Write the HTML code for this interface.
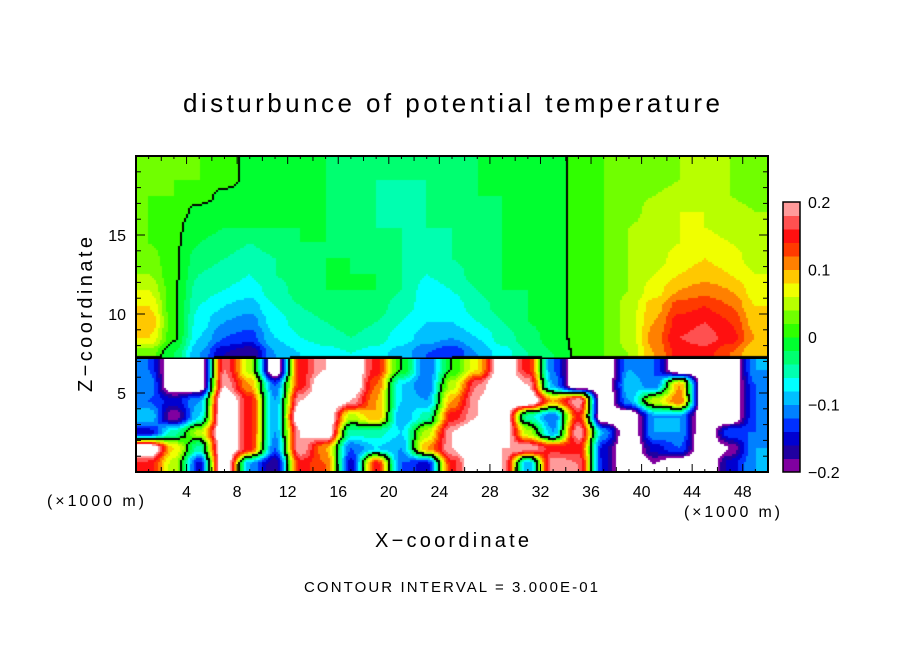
<!DOCTYPE html>
<html><head><meta charset="utf-8"><style>
body{margin:0;background:#fff;width:904px;height:654px;overflow:hidden;font-family:"Liberation Sans","DejaVu Sans",sans-serif;}
#wrap{position:relative;width:904px;height:654px;}
canvas{position:absolute;left:136px;top:156px;}
svg{position:absolute;left:0;top:0;}
</style></head><body>
<div id="wrap">
<canvas id="hm" width="632" height="316"></canvas>
<svg id="sv" width="904" height="654">
<text x="183" y="112" font-size="26" textLength="537" lengthAdjust="spacing">disturbunce of potential temperature</text>
<text transform="translate(92,392) rotate(-90)" font-size="20" textLength="155" lengthAdjust="spacing">Z−coordinate</text>
<text x="375" y="547" font-size="20" textLength="154" lengthAdjust="spacing">X−coordinate</text>
<text x="47" y="506" font-size="16" textLength="97" lengthAdjust="spacing">(×1000 m)</text>
<text x="684" y="517" font-size="16" textLength="96" lengthAdjust="spacing">(×1000 m)</text>
<text x="304" y="592" font-size="15" textLength="294" lengthAdjust="spacing">CONTOUR INTERVAL = 3.000E-01</text>
<g id="axes"></g>
<g id="cbar"></g>
</svg>
</div>
<script>
const xTicks=[4,8,12,16,20,24,28,32,36,40,44,48];
const yTicks=[5,10,15];
const cbarLabels=["0.2","0.1","0","−0.1","−0.2"];
const cbarValues=[0.2,0.1,0,-0.1,-0.2];
const levelColors=["#8000a0","#2000a0","#0000d0","#0030ff","#0080ff","#00c0ff","#00ffff","#00ffb0","#00ff70","#00ff30","#30ff00","#70ff00","#b8ff00","#f0ff00","#ffc800","#ff8000","#ff3a00","#ff1010","#ff5050","#ff9a9a"];
const zCenters=[19.5,18.5,17.5,16.5,15.5,14.5,13.5,12.5,11.5,10.5,9.5,8.5,7.5,6.5,5.5,4.5,3.5,2.5,1.5,0.5];
const xCenters=[1,3,5,7,9,11,13,15,17,19,21,23,25,27,29,31,33,35,37,39,41,43,45,47,49];
const r0=[.02,.02,.02,.01,-.005,-.01,-.02,-.02,-.03,-.03,-.04,-.04,-.03,-.02,-.02,-.01,-.01,.005,.02,.02,.03,.04,.04,.04,.03];
const r1=[.02,.02,.02,.01,-.005,-.01,-.02,-.02,-.03,-.04,-.04,-.04,-.03,-.02,-.02,-.01,-.01,.005,.02,.03,.03,.04,.05,.04,.03];
const r2=[.02,.02,.01,-.005,-.01,-.02,-.02,-.02,-.03,-.04,-.05,-.04,-.03,-.02,-.02,-.01,-.01,.005,.02,.03,.04,.05,.05,.04,.03];
const r3=[.02,.01,-.005,-.01,-.02,-.02,-.02,-.02,-.03,-.04,-.05,-.04,-.03,-.03,-.02,-.01,-.01,.005,.02,.03,.05,.06,.06,.05,.04];
const r4=[.02,.005,-.01,-.02,-.02,-.02,-.02,-.02,-.03,-.04,-.04,-.04,-.04,-.03,-.02,-.01,-.01,.005,.02,.04,.05,.06,.06,.05,.04];
const r5=[.02,.005,-.02,-.03,-.04,-.03,-.02,-.02,-.03,-.03,-.04,-.05,-.04,-.03,-.02,-.02,-.01,.005,.02,.04,.05,.06,.07,.06,.05];
const r6=[.03,.005,-.03,-.04,-.05,-.04,-.03,-.02,-.02,-.03,-.04,-.05,-.04,-.03,-.02,-.02,-.01,.005,.02,.04,.05,.07,.08,.07,.05];
const r7=[.04,.005,-.04,-.05,-.06,-.04,-.03,-.02,-.02,-.02,-.04,-.06,-.05,-.03,-.02,-.02,-.01,.005,.02,.04,.06,.08,.09,.08,.06];
const r8=[.06,.005,-.05,-.06,-.07,-.05,-.03,-.02,-.02,-.02,-.04,-.07,-.06,-.04,-.02,-.02,-.01,.005,.02,.04,.07,.10,.11,.10,.07];
const r9=[.08,.005,-.06,-.08,-.09,-.06,-.04,-.03,-.02,-.03,-.05,-.07,-.07,-.05,-.03,-.02,-.01,.005,.02,.05,.09,.13,.14,.12,.08];
const r10=[.10,.005,-.07,-.10,-.11,-.07,-.05,-.04,-.03,-.04,-.06,-.08,-.08,-.06,-.04,-.02,-.01,.005,.02,.05,.10,.15,.16,.14,.09];
const r11=[.08,.005,-.08,-.12,-.13,-.08,-.06,-.05,-.04,-.05,-.07,-.09,-.10,-.08,-.05,-.03,-.01,.005,.02,.05,.11,.16,.17,.15,.10];
const r12=[.03,-.02,-.10,-.16,-.18,-.10,-.08,-.07,-.06,-.07,-.09,-.12,-.14,-.10,-.07,-.04,-.02,.005,.02,.04,.10,.15,.15,.12,.08];
const r13=[-.12,-.25,-.25,.18,.05,-.25,.15,.2,.25,.15,0,-.12,0,.08,.25,.15,-.12,-.25,-.25,-.1,-.12,-.25,-.25,-.25,-.1];
const r14=[-.1,-.25,-.25,.2,.1,-.12,.15,.25,.25,.12,-.08,-.12,.05,.18,.25,.2,-.1,-.25,-.25,-.08,-.12,.1,-.25,-.25,-.12];
const r15=[-.12,-.15,-.1,.25,.15,-.1,.2,.25,.2,.1,-.08,-.1,.1,.2,.25,.25,.1,.2,-.25,-.1,.05,.12,-.25,-.25,-.12];
const r16=[-.08,-.2,-.08,.25,.15,-.1,.25,.25,.05,.1,-.1,-.05,.15,.2,.25,-.05,-.12,.15,-.25,-.25,-.1,-.1,-.25,-.25,-.12];
const r17=[-.15,-.05,.05,.25,.15,-.1,.2,.25,-.05,-.05,-.08,.05,.2,.25,.25,.05,-.1,.2,-.1,-.25,-.1,-.1,-.25,-.12,-.12];
const r18=[.25,.08,-.05,.25,.15,-.12,.2,.1,-.12,-.08,-.1,.1,.2,.25,.2,.2,.15,.15,-.15,-.25,-.15,-.12,-.25,-.2,-.1];
const r19=[.15,.05,-.15,.25,-.1,-.18,.15,.12,-.15,.15,-.12,-.15,.15,.25,.2,-.1,.2,.18,-.15,-.25,-.2,-.25,-.25,-.15,-.1];
const grid=[r0,r1,r2,r3,r4,r5,r6,r7,r8,r9,r10,r11,r12,r13,r14,r15,r16,r17,r18,r19];

const PL=136,PT=156,PW=632,PH=316,XMAX=50,ZMAX=20,ZI=7.2;
const xs=v=>PL+v/XMAX*PW, zs=v=>PT+PH-v/ZMAX*PH;
function colorOf(v){if(v>=0.2||v<-0.2)return "#ffffff";let i=Math.floor((v+0.2)/0.02);i=Math.max(0,Math.min(19,i));return levelColors[i];}
function sm(t){return t*t*(3-2*t);}
function sample(x,z){
  const upper=z>=ZI;
  let fx=(x-xCenters[0])/(xCenters[1]-xCenters[0]);fx=Math.max(0,Math.min(xCenters.length-1,fx));
  const c0=Math.floor(fx),c1=Math.min(xCenters.length-1,c0+1),tx=sm(fx-c0);
  let fr=(zCenters[0]-z)/(zCenters[0]-zCenters[1]);fr=Math.max(0,Math.min(zCenters.length-1,fr));
  let a=Math.floor(fr),b=Math.min(zCenters.length-1,a+1),t=sm(fr-a);
  const iface=12;
  if(upper&&b>iface){a=iface;b=iface;t=0;}
  if(!upper&&a<=iface){a=iface+1;b=iface+1;t=0;}
  const v=(r,c)=>grid[r][c];
  const top=v(a,c0)*(1-tx)+v(a,c1)*tx, bot=v(b,c0)*(1-tx)+v(b,c1)*tx;
  return top*(1-t)+bot*t;
}
const ctx=document.getElementById('hm').getContext('2d');
const S=2,NX=PW/S,NY=PH/S;
const vals=[];
for(let j=0;j<NY;j++){const row=[];for(let i=0;i<NX;i++){
  const x=(i*S+S/2)/PW*XMAX, z=(PH-j*S-S/2)/PH*ZMAX;
  const v=sample(x,z);row.push(v);
  ctx.fillStyle=colorOf(v);ctx.fillRect(i*S,j*S,S,S);
}vals.push(row);}
// zero contour (derived from data)
ctx.fillStyle="#000";
for(let j=0;j<NY;j++){for(let i=0;i<NX;i++){
  const v=vals[j][i];
  if(i+1<NX&&(v>=0)!==(vals[j][i+1]>=0))ctx.fillRect(i*S,j*S,S,S);
  else if(j+1<NY&&(v>=0)!==(vals[j+1][i]>=0))ctx.fillRect(i*S,j*S,S,S);
}}
const NS="http://www.w3.org/2000/svg";
const ax=document.getElementById('axes');
function mk(tag,attrs,parent){const e=document.createElementNS(NS,tag);for(const k in attrs)e.setAttribute(k,attrs[k]);parent.appendChild(e);return e;}
const il=mk('line',{x1:PL,x2:PL+PW,y1:zs(ZI),y2:zs(ZI),stroke:'#000','stroke-width':1.5},ax);


const fr=mk('rect',{x:PL,y:PT,width:PW,height:PH,fill:'none',stroke:'#000','stroke-width':2},ax);


for(let v=1;v<XMAX;v++){const L=v%4===0?8:(v%2===0?5:3);
  mk('line',{x1:xs(v),x2:xs(v),y1:PT+PH,y2:PT+PH-L,stroke:'#000'},ax);
  mk('line',{x1:xs(v),x2:xs(v),y1:PT,y2:PT+L,stroke:'#000'},ax);}
for(let v=1;v<ZMAX;v++){const L=v%5===0?9:5;
  mk('line',{x1:PL,x2:PL+L,y1:zs(v),y2:zs(v),stroke:'#000'},ax);
  mk('line',{x1:PL+PW,x2:PL+PW-L,y1:zs(v),y2:zs(v),stroke:'#000'},ax);}
xTicks.forEach(v=>{const t=mk('text',{x:xs(v),y:497,'text-anchor':'middle','font-size':16},ax);t.textContent=v;
  
  });
yTicks.forEach(v=>{const t=mk('text',{x:126,y:zs(v)+6,'text-anchor':'end','font-size':16},ax);t.textContent=v;
  
  });
const cb=document.getElementById('cbar');
const CX=783,CW=17,CT=202,CB=472,ch=(CB-CT)/levelColors.length;
levelColors.forEach((c,i)=>{const r=mk('rect',{x:CX,y:CB-(i+1)*ch,width:CW,height:ch+0.5,fill:c},cb);
  
  });
const cf=mk('rect',{x:CX,y:CT,width:CW,height:CB-CT,fill:'none',stroke:'#000','stroke-width':1.5},cb);


const cy=v=>CB-(v+0.2)/0.4*(CB-CT);
cbarValues.forEach((v,i)=>{const t=mk('text',{x:808,y:cy(v)+6,'font-size':16},cb);t.textContent=cbarLabels[i];
  
  });
</script>
</body></html>
